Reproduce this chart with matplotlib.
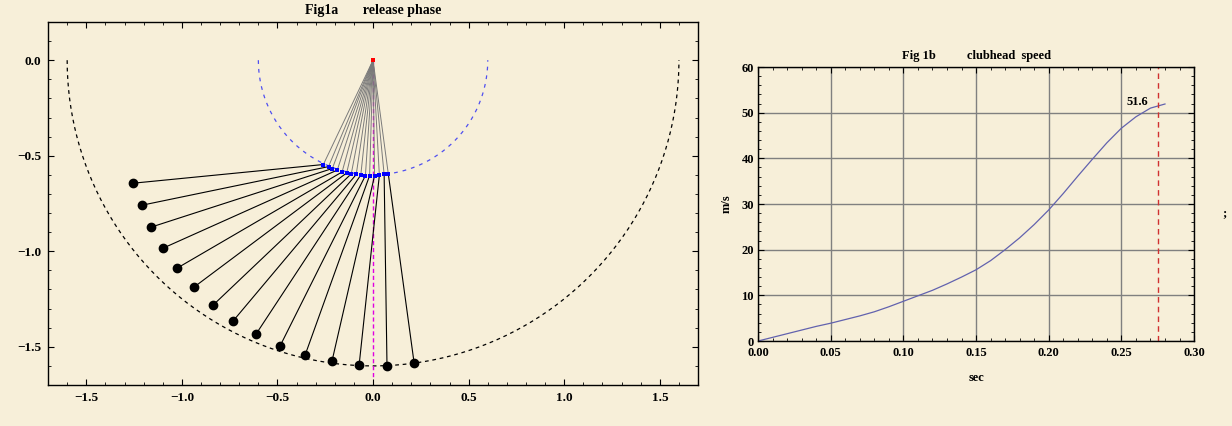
import matplotlib
matplotlib.use("Agg")
import matplotlib.pyplot as plt
import numpy as np
from matplotlib.ticker import MultipleLocator

BG = "#F7EFD9"
plt.rcParams.update({
    "font.family": ["Liberation Serif", "DejaVu Serif"],
    "font.weight": "bold",
    "font.size": 9,
    "figure.facecolor": BG,
    "axes.facecolor": BG,
    "axes.linewidth": 1.0,
    "xtick.direction": "in",
    "ytick.direction": "in",
    "xtick.top": True,
    "ytick.right": True,
    "xtick.major.size": 4,
    "ytick.major.size": 4,
    "xtick.minor.size": 2,
    "ytick.minor.size": 2,
    "xtick.minor.visible": True,
    "ytick.minor.visible": True,
})

# Fig 1a: hand (arm end) positions and clubhead positions
hand_x = [-0.260, -0.233, -0.213, -0.187, -0.162, -0.138, -0.114, -0.088,
          -0.064, -0.040, -0.018, 0.008, 0.033, 0.058, 0.080]
hand_y = [-0.546, -0.557, -0.567, -0.575, -0.585, -0.590, -0.595, -0.598,
          -0.600, -0.604, -0.604, -0.604, -0.602, -0.598, -0.597]
head_x = [-1.257, -1.209, -1.162, -1.099, -1.026, -0.937, -0.838, -0.733,
          -0.613, -0.487, -0.356, -0.215, -0.073, 0.073, 0.215]
head_y = [-0.644, -0.759, -0.874, -0.984, -1.089, -1.188, -1.283, -1.366,
          -1.435, -1.497, -1.545, -1.576, -1.597, -1.602, -1.586]
arm_len = 0.6
reach = 1.6

# Fig 1b: clubhead speed (m/s) against time (s)
t_sec = [0.00, 0.01, 0.02, 0.03, 0.04, 0.05, 0.06, 0.07, 0.08, 0.09, 0.10,
         0.11, 0.12, 0.13, 0.14, 0.15, 0.16, 0.17, 0.18, 0.19, 0.20, 0.21,
         0.22, 0.23, 0.24, 0.25, 0.26, 0.27, 0.28]
speed = [0.0, 0.8, 1.6, 2.4, 3.2, 3.9, 4.7, 5.5, 6.4, 7.5, 8.7,
         9.9, 11.1, 12.5, 14.0, 15.6, 17.6, 20.0, 22.6, 25.5, 28.7, 32.3,
         36.1, 39.8, 43.4, 46.6, 49.1, 51.0, 51.9]
t_release = 0.275
v_release = 51.6

fig = plt.figure(figsize=(12.32, 4.26), dpi=100)

# ---- left panel
ax = fig.add_axes([0.0390, 0.0962, 0.5276, 0.8522])
ang = np.linspace(np.pi, 2 * np.pi, 200)
ax.plot(reach * np.cos(ang), reach * np.sin(ang), color="black", lw=0.9,
        dashes=(3, 3))
ax.plot(arm_len * np.cos(ang), arm_len * np.sin(ang), color="#4F4FF0", lw=0.9,
        dashes=(3, 4))
ax.plot([0, 0], [0, -1.66], color="#E000E0", lw=1.0, dashes=(3, 2))
for hx, hy in zip(hand_x, hand_y):
    ax.plot([0, hx], [0, hy], color="#7A7A7A", lw=0.7)
for hx, hy, cx, cy in zip(hand_x, hand_y, head_x, head_y):
    ax.plot([hx, cx], [hy, cy], color="black", lw=0.8)
ax.plot(hand_x, hand_y, "s", color="#0000FF", ms=3, mew=0)
ax.plot(head_x, head_y, "o", color="black", ms=6)
ax.plot([0], [0], "s", color="#FF0000", ms=3, mew=0)
ax.set_xlim(-1.7, 1.7)
ax.set_ylim(-1.7, 0.2)
ax.xaxis.set_major_locator(MultipleLocator(0.5))
ax.xaxis.set_minor_locator(MultipleLocator(0.1))
ax.yaxis.set_major_locator(MultipleLocator(0.5))
ax.yaxis.set_minor_locator(MultipleLocator(0.1))
ax.tick_params(pad=5, labelsize=9.5)
ax.set_title("Fig1a       release phase", fontsize=10, fontweight="bold", pad=6)

# ---- right panel
bx = fig.add_axes([0.6153, 0.1995, 0.3539, 0.6432])
bx.grid(True, which="major", color="#808080", lw=1.0)
bx.plot(t_sec, speed, color="#6262AE", lw=0.9)
bx.axvline(t_release, color="#D03030", lw=1.0, dashes=(4, 3))
bx.text(t_release - 0.014, v_release + 0.8, f"{v_release}", ha="center",
        va="center", fontsize=9, fontweight="bold")
bx.set_xlim(0, 0.30)
bx.set_ylim(0, 60)
bx.xaxis.set_major_locator(MultipleLocator(0.05))
bx.xaxis.set_minor_locator(MultipleLocator(0.01))
bx.yaxis.set_major_locator(MultipleLocator(10))
bx.yaxis.set_minor_locator(MultipleLocator(2))
bx.xaxis.set_major_formatter(lambda v, p: f"{v:.2f}")
bx.tick_params(axis="x", pad=4)
bx.tick_params(axis="y", pad=3)
bx.set_xlabel("sec", fontsize=9, fontweight="bold", labelpad=10)
bx.set_ylabel("m/s", fontsize=9, fontweight="bold", labelpad=6)
bx.set_title("Fig 1b          clubhead  speed", fontsize=9, fontweight="bold", pad=6)

fig.text(0.994, 0.50, ";", fontsize=9, ha="center", va="center")

fig.savefig("out.png", dpi=100, facecolor=BG)
